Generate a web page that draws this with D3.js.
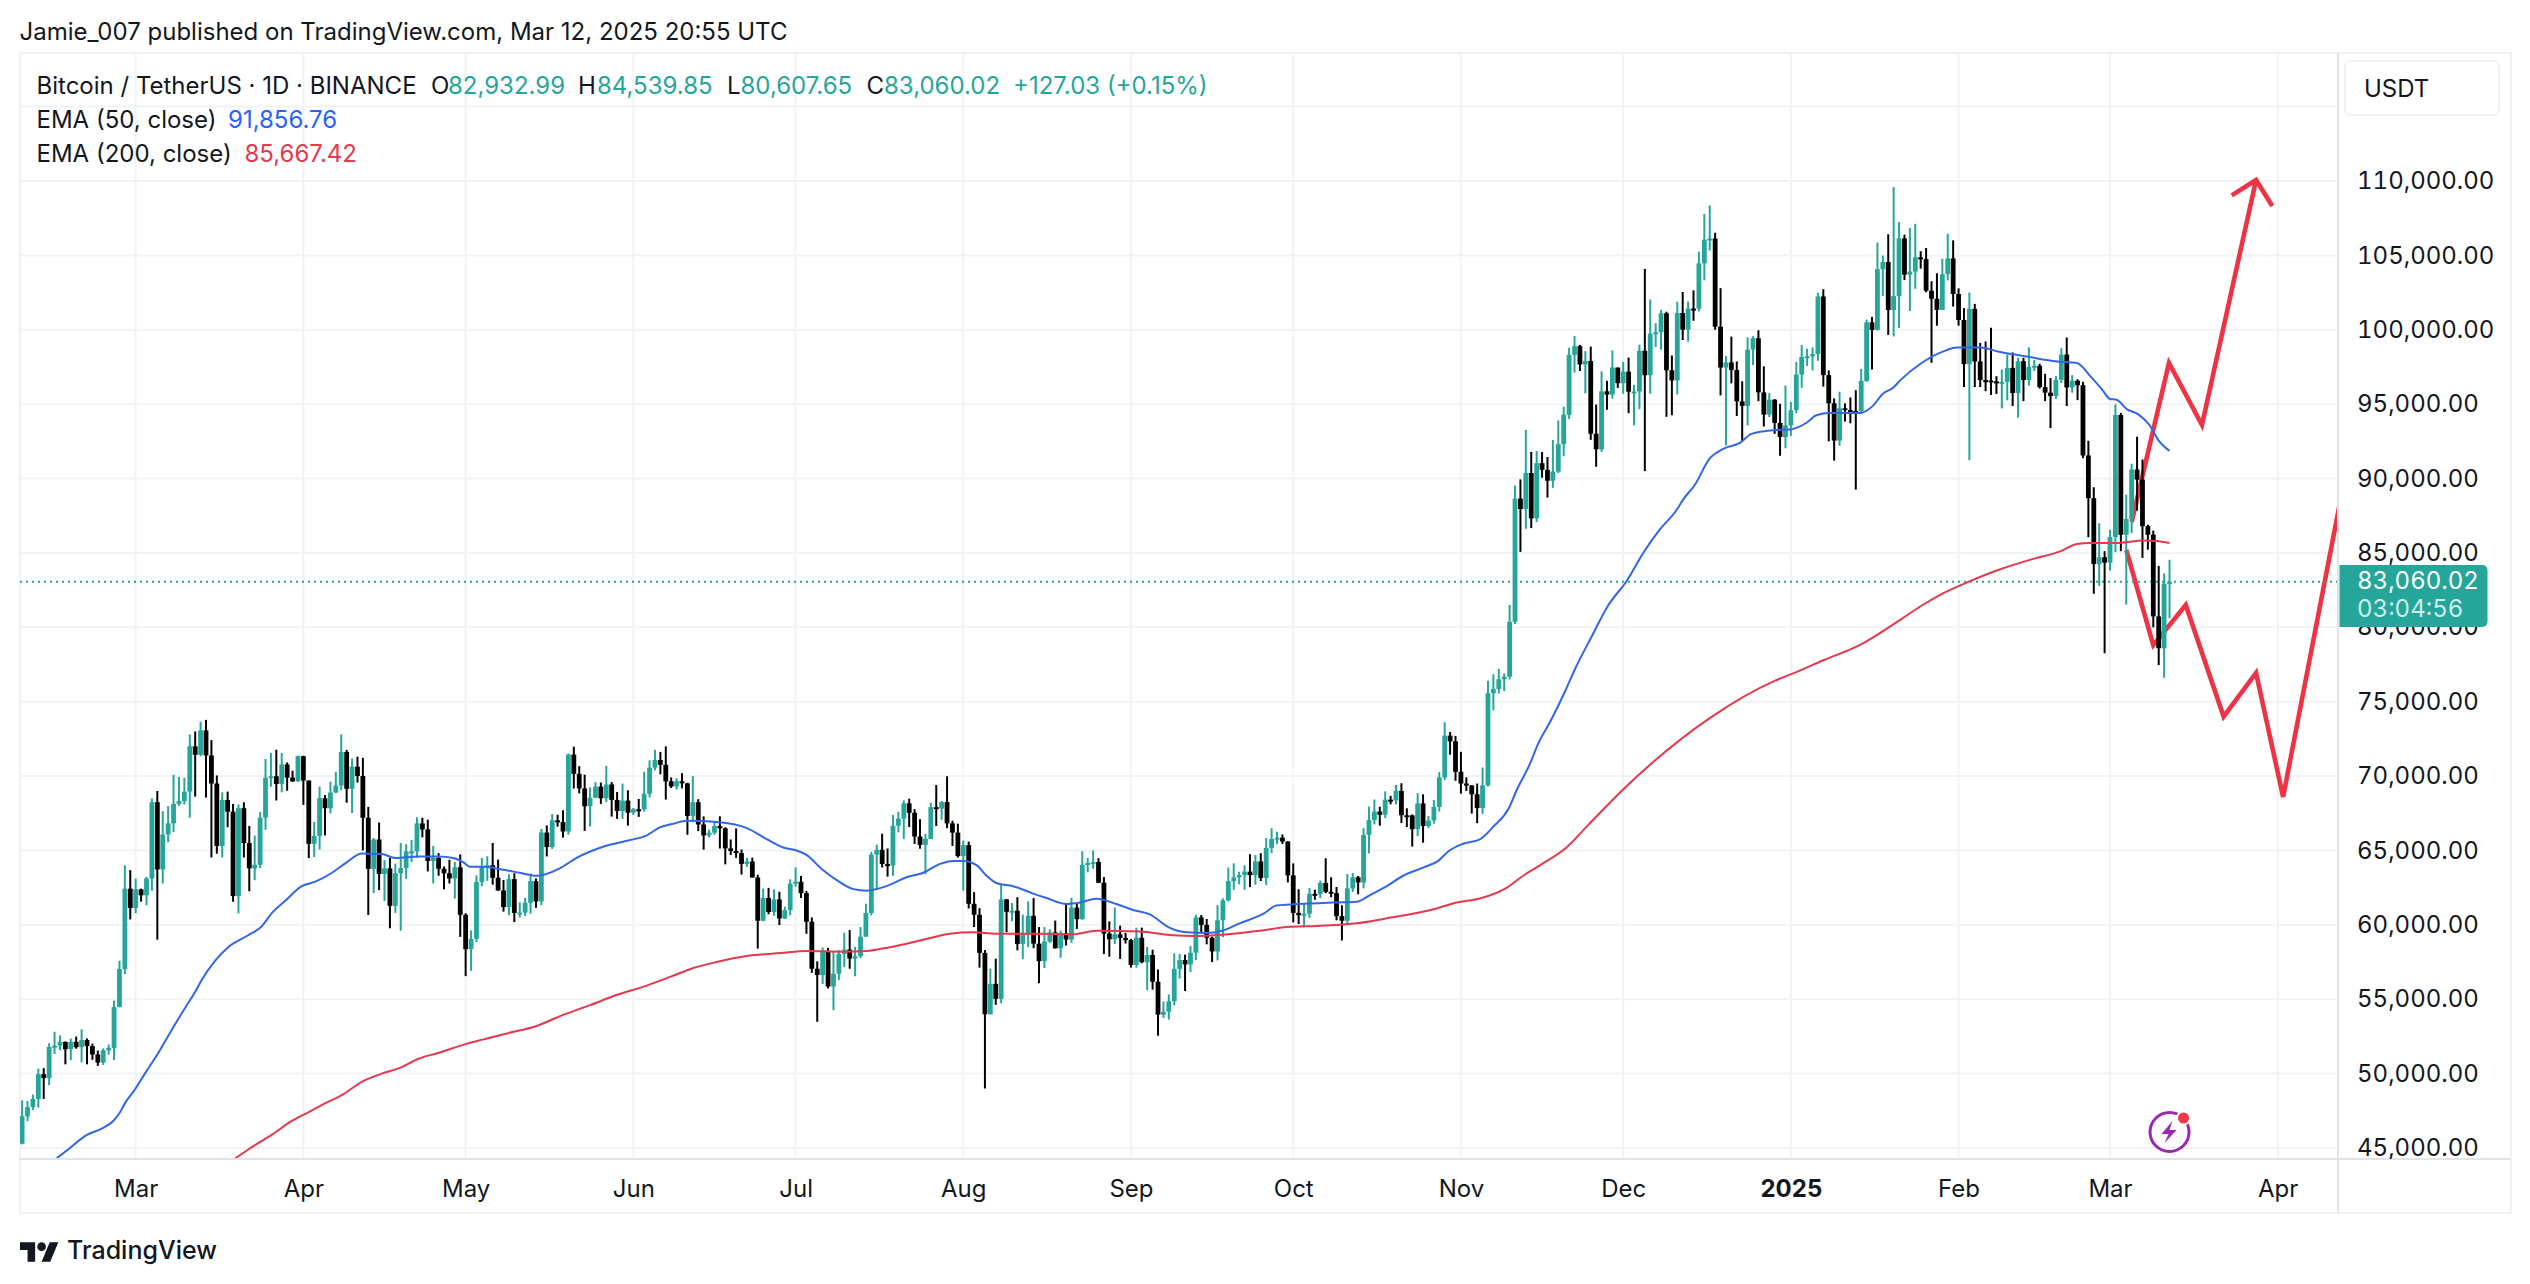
<!DOCTYPE html>
<html>
<head>
<meta charset="utf-8">
<title>BTCUSDT 1D</title>
<script src="https://cdn.jsdelivr.net/npm/d3@7"></script>
<style>
  html, body { margin: 0; background: #fff; }
  text { font-family: Inter, "Noto Sans", sans-serif; fill: #131722; }
</style>
</head>
<body>
<svg id="chart" width="2530" height="1284"></svg>
<script>
// Daily candles, one value per day starting at firstDay.
const firstDay = new Date(Date.UTC(2024, 1, 9));

const opens = [
  45288,47132,47751,48293,49958,49699,51795,51880,52124,51642,52137,51774,52258,51849,51288,50744,51568,51728,54476,57037,62432, // Feb
  61130,62387,61987,63113,68245,63724,66074,66823,68124,68313,68955,72000,71430,73072,71388,69499,65300,68393,67609,61937,67840,65501,63796,64038,67211,69880,69988,69469,70780,69897,69645, // Mar
  71333,69702,65446,65980,68508,67837,68896,69360,71620,69146,70631,70006,67195,63765,65738,63419,63793,61277,63470,63818,64940,64941,66819,66414,64289,64498,63770,63461,63118,63866, // Apr
  60672,58364,59060,62882,63892,64012,63165,62312,61193,63074,60799,60825,61483,62940,61577,66206,65235,67024,66915,66274,71446,70148,69166,67969,68549,69291,68507,69436,68398,67652,68352, // May
  67540,67766,67765,68809,70567,71082,70757,69648,69308,69649,69508,67321,68243,66747,66010,66191,66639,66490,65140,64960,64828,64096,64252,63180,60277,61806,60864,61707,60427,60986, // Jun
  62772,62899,62135,60208,57050,56628,58230,55857,56714,58050,58340,57735,57889,59204,60797,64724,65043,64087,63987,66660,67139,68165,67532,65936,65372,65777,67912,67813,68255,66819,66201, // Jul
  64619,65357,61415,60680,58116,53991,56034,55027,61710,60880,60945,58719,59354,60609,58737,57560,58874,59491,58427,59438,59013,61156,60381,64037,64157,64220,62834,59415,59034,59359,59123, // Aug
  58973,57301,59132,57487,57970,56180,53962,54160,54869,57042,57635,57338,58127,60498,59993,59132,58213,60309,61649,62940,63192,63348,63578,63339,64262,63152,65173,65769,65858,65602, // Sep
  63327,60805,60649,60752,62086,62058,62819,62224,62134,60582,60274,62445,63193,62851,66046,67041,67612,67399,68418,68362,69001,67367,67361,66432,68161,66642,67014,67929,69907,72720,72339, // Oct
  70292,69496,69374,68775,67850,69372,75571,75857,76509,76677,80370,88648,87952,90375,87325,91032,90586,89855,90464,92310,94286,98317,98892,97672,97900,93010,91965,95863,95643,97460, // Nov
  96407,97185,95840,95849,98587,96945,99740,99831,101109,97276,96593,101125,100004,101424,101420,104463,106058,106133,100204,97461,97805,97291,95186,94881,98663,99429,95792,94299,95300,93738,92792, // Dec
  93576,94591,96984,98174,98220,98364,102235,96954,95060,92552,94726,94599,94545,94536,96560,100497,99987,104077,104556,101331,102260,106143,103706,103910,104870,104746,102620,102082,101335,103734,104796, // Jan
  102405,100655,97688,101406,97871,96615,96593,96529,96482,96500,97437,95748,97885,96623,97508,97580,96146,95773,95539,96635,98333,96125,96577,96273,91552,88680,84250,84708, // Feb
  84349,86064,94270,86220,87281,90606,89931,86801,86222,80734,78595,82932 // Mar
];
const highs = [
  48200,48170,48592,50334,50368,52043,52816,52572,52163,52357,52488,52985,52366,52017,51548,51698,51958,54910,57588,64000,63676,
  63114,62433,63231,68499,69000,67641,67980,70083,69936,69887,72800,73000,73650,73777,72419,70043,68904,68956,68124,68100,68240,66649,65999,67587,71150,71561,71769,71552,70916,70355,71377,
  71366,69708,66914,69291,68725,69629,70284,72797,71758,71172,71305,71227,67931,65840,66878,64365,64499,64117,65500,65419,65695,67233,67199,67075,65297,64820,63923,64370,64228,64734,
  60780,59625,63320,64494,64610,65500,64390,63018,63404,63469,61515,61818,63450,63118,66444,66683,67451,67400,67700,71515,71979,70666,70096,69250,69591,69562,70687,69591,68935,69500,69044,
  67857,68460,70288,71063,71758,71625,71997,69909,69850,70195,69550,69999,68449,67294,66400,66983,67298,66556,65738,66480,65066,64500,64520,63369,62435,62487,62389,62225,61224,63058,
  63861,63288,62285,60498,57546,58475,58449,58236,58296,59470,59650,58526,59850,61420,64900,65388,66128,65133,67386,67598,68366,68479,67779,67102,66112,68200,69399,68318,69987,66998,66800,
  65659,65596,62198,61117,58305,57058,57726,62745,61745,61470,61855,60680,61572,61800,59849,59847,59700,60284,59617,61400,61820,61400,64955,64494,65000,64481,63212,60234,61166,59944,59462,
  59054,59809,59815,58511,58327,57000,54850,55318,58088,58044,58000,58588,60670,60660,60395,59210,61320,61786,63850,64133,63572,64000,64745,64688,64817,65839,66498,66260,66076,65618,
  64130,62392,61469,62484,62370,62975,64478,63200,62543,61321,63417,63480,63285,66500,67950,68424,67939,68969,68668,69400,69519,67836,67426,68850,68771,67317,68388,70270,73620,72961,72700,
  71632,69914,69391,69500,70577,76400,76849,77199,76900,81500,89530,89940,93265,91790,91850,91779,91449,92594,93905,94831,98786,99588,98984,98564,98871,94973,97208,96564,98619,97463,
  97836,98130,96307,99000,104088,102039,100439,101350,101215,98270,101888,102540,101895,102650,105250,107780,108353,106524,102800,98233,99540,97870,96539,99487,99569,99963,97544,95733,95340,95024,96250,
  95151,97839,98976,98734,98813,102480,102724,97268,95382,95836,95050,95450,95940,97371,100681,100866,105865,104988,106422,109588,107240,106394,106850,107120,105286,105500,103260,103800,104782,106457,106012,
  102783,101456,102500,101740,99120,99211,100137,96880,97323,98345,98478,98119,98112,98826,97970,97715,97037,96753,96889,98766,99475,96950,96671,96503,92540,89414,87000,85120,
  86558,95000,94416,88911,91000,92810,91283,86897,86500,84123,83617,84539
];
const lows = [
  45242,46800,47557,47710,48300,49225,51315,51566,50625,50900,51677,50760,50625,50926,50521,50585,51280,50901,54450,56691,60364,
  60777,61561,61320,62300,59005,62779,65551,66230,68000,68094,67194,68620,71332,68555,64533,64780,64533,66566,61555,60775,64529,62260,63000,63812,66385,69280,68359,68903,69009,69601,69624,
  68062,64491,64559,65064,66011,67491,68851,69043,68210,67518,69567,65000,60660,62134,62333,61600,59768,60803,59600,63090,64227,64500,65884,63589,62794,63297,62391,62781,61765,59191,
  56552,56911,58848,62599,62955,62700,62285,60888,60648,60187,60487,60610,60749,61142,61319,64600,65106,66600,65857,66060,69162,68842,66312,66600,68510,68128,68250,67277,67124,67128,66670,
  67386,67257,67612,68568,70383,70119,68420,69200,69100,69180,66051,66902,66304,65056,65870,66060,65130,64066,64691,64500,63379,63900,63178,58402,60239,60712,60606,59985,60383,60632,
  62571,61806,59400,56771,53485,56018,55724,54260,56289,57157,57050,56542,57756,59200,60632,62373,63854,63238,63300,66222,65777,66573,65441,65117,63400,65756,66650,67066,66500,65302,64523,
  62302,61100,59850,57122,49000,53973,54620,54730,59500,60242,58286,57688,58506,58433,56078,57098,58785,58408,57787,58610,58783,59724,60345,63531,63773,62800,58034,57860,58713,57703,58744,
  57127,57120,57415,55606,55643,52550,53741,53629,54591,56386,55550,56815,57632,59457,58691,57500,57610,59174,61555,62350,62725,62357,62538,62700,62947,62670,64819,65422,65432,62856,
  60164,60055,59828,60459,61689,61798,62128,61860,60301,58946,60087,62209,62050,62457,64800,66750,66666,67177,68105,68100,66840,66571,65260,65960,65522,66518,66800,67618,69730,71436,69685,
  68820,69000,67478,66835,67458,69298,74416,75555,75714,76492,80216,85072,86623,86668,87073,90056,88722,89376,90357,91500,94000,97122,97232,95734,92600,90791,91792,94620,95364,96092,
  95693,94395,93578,94660,90500,95700,98844,98657,94150,94256,95658,99311,99205,100609,101237,103322,105321,100000,95587,92232,96398,94202,92520,93569,97632,95199,93500,94135,93009,91530,92033,
  92868,94392,96100,97562,97271,97914,96181,92500,91203,92206,93831,93712,89256,94346,96500,97335,99950,102277,99651,99550,100119,103339,101262,102750,104106,102520,97777,100272,101328,103320,101560,
  100279,96150,91231,96150,96155,95869,95620,95688,94713,95256,94876,94088,95205,96252,97232,96046,95205,93388,95349,96417,94871,95770,95270,91371,86050,82256,82786,78258,
  83824,85050,85117,81529,86334,87836,84667,85218,80000,77459,76606,80607
];
const closes = [
  47132,47751,48293,49958,49699,51795,51880,52124,51642,52137,51774,52258,51849,51288,50744,51568,51728,54476,57037,62432,61130,
  62387,61987,63113,68245,63724,66074,66823,68124,68313,68955,72000,71430,73072,71388,69499,65300,68393,67609,61937,67840,65501,63796,64038,67211,69880,69988,69469,70780,69897,69645,71333,
  69702,65446,65980,68508,67837,68896,69360,71620,69146,70631,70006,67195,63765,65738,63419,63793,61277,63470,63818,64940,64941,66819,66414,64289,64498,63770,63461,63118,63866,60672,
  58364,59060,62882,63892,64012,63165,62312,61193,63074,60799,60825,61483,62940,61577,66206,65235,67024,66915,66274,71446,70148,69166,67969,68549,69291,68507,69436,68398,67652,68352,67540,
  67766,67765,68809,70567,71082,70757,69648,69308,69649,69508,67321,68243,66747,66010,66191,66639,66490,65140,64960,64828,64096,64252,63180,60277,61806,60864,61707,60427,60986,62772,
  62899,62135,60208,57050,56628,58230,55857,56714,58050,58340,57735,57889,59204,60797,64724,65043,64087,63987,66660,67139,68165,67532,65936,65372,65777,67912,67813,68255,66819,66201,64619,
  65357,61415,60680,58116,53991,56034,55027,61710,60880,60945,58719,59354,60609,58737,57560,58874,59491,58427,59438,59013,61156,60381,64037,64157,64220,62834,59415,59034,59359,59123,58973,
  57301,59132,57487,57970,56180,53962,54160,54869,57042,57635,57338,58127,60498,59993,59132,58213,60309,61649,62940,63192,63348,63578,63339,64262,63152,65173,65769,65858,65602,63327,
  60805,60649,60752,62086,62058,62819,62224,62134,60582,60274,62445,63193,62851,66046,67041,67612,67399,68418,68362,69001,67367,67361,66432,68161,66642,67014,67929,69907,72720,72339,70292,
  69496,69374,68775,67850,69372,75571,75857,76509,76677,80370,88648,87952,90375,87325,91032,90586,89855,90464,92310,94286,98317,98892,97672,97900,93010,91965,95863,95643,97460,96407,
  97185,95840,95849,98587,96945,99740,99831,101109,97276,96593,101125,100004,101424,101420,104463,106058,106133,100204,97461,97805,97291,95186,94881,98663,99429,95792,94299,95300,93738,92792,93576,
  94591,96984,98174,98220,98364,102235,96954,95060,92552,94726,94599,94545,94536,96560,100497,99987,104077,104556,101331,102260,106143,103706,103910,104870,104746,102620,102082,101335,103734,104796,102405,
  100655,97688,101406,97871,96615,96593,96529,96482,96500,97437,95748,97885,96623,97508,97580,96146,95773,95539,96635,98333,96125,96577,96273,91552,88680,84250,84708,84349,
  86064,94270,86220,87281,90606,89931,86801,86222,80734,78595,82932,83060
];

// EMA readings: candle index (fractional) and price in thousands.
const ema50Idx = [6,8.5,11.9,14.7,16.8,18.1,19,20.8,22.7,25.2,27.6,30.1,32,33.2,35.7,38.1,41.8,44.3,46.2,48.6,51.7,54.2,57.3,60,62.8,66.5,69,73.3,77,79.7,81.6,82.8,85.3,89,92,95.1,99.4,102.5,107.4,112.4,115.4,117.9,120.4,122.9,129,134,137,140.7,143.2,145,148,150.6,153.7,156.1,159.8,163.5,166.6,169.7,172.1,174,176.5,178.3,180.2,183.2,186.9,189.4,193.1,195.6,198.6,202.3,205.4,208.5,211.9,215.3,219,221.8,225.1,229.5,231.9,234.4,238.1,242.4,246.7,249.2,252.3,255.3,259,261.8,263.7,266.4,269.5,272,274.8,276.3,278.8,280.3,282.5,285.2,287.1,290.2,293.1,296.8,299.7,302.6,305.9,307.1,309.2,312,314.5,317.6,319.7,323.7,326.8,329.9,331.7,334.2,339.7,342.2,344,345.9,347.2,350.9,355.2,357.7,362,365.7,370.6,376.2,379.9,382.3,384.5,386,387.2,389.1,391.3,393.4,394.9,397];
const ema50Val = [44.2,44.9,45.87,46.3,46.8,47.4,48,48.9,50,51.4,52.9,54.4,55.5,56.3,57.6,58.5,59.3,59.9,60.8,61.6,62.6,62.9,63.5,64.2,64.8,64.76,64.5,64.6,64.6,64.5,64.2,63.9,63.9,63.7,63.5,63.3,63.8,64.5,65.25,65.7,66,66.55,66.8,67,66.9,66.5,65.9,65.2,65,64.7,63.7,63,62.4,62.3,62.6,63.2,63.5,64.1,64.3,64.3,64,63.3,62.8,62.6,62.1,61.8,61.4,61.5,61.75,61.4,61,60.7,59.85,59.5,59.45,59.6,60.1,60.75,61.3,61.37,61.43,61.5,61.55,62,62.6,63.3,63.85,64.3,64.95,65.45,65.75,66.6,67.8,69.05,70.85,72.2,73.65,75.65,77.2,79.4,81.4,83.2,85,86.5,87.9,88.6,89.55,91.35,92,92.4,93,93.25,93.3,93.75,94.25,94.4,94.4,94.9,95.7,96.1,96.6,97.7,98.55,98.8,98.8,98.5,98.2,97.87,97.76,96.9,96,95.35,95.3,94.67,94.3,93.55,92.6,91.86];

const ema200Idx = [39,41.8,46.2,49.8,52.9,56,59.1,62.8,66.5,69.6,73.3,77,82.1,85.3,89.6,95.1,100,105,110,114.9,119.8,124.1,128.4,134,140.2,145,151.8,156.1,160.4,166.6,171.5,175.8,180.2,188.2,194.3,198.6,206.6,212.8,216.5,222,228.8,233.8,239.3,246.7,251.7,261.5,265.2,269.5,274.5,277.5,280.6,285.5,289.5,295.7,312,324,327.4,333.1,339.7,347.2,350.9,355.2,360.1,365.7,371.8,376.8,379.9,382.3,387.2,392.2,394.6,397];
const ema200Val = [44.2,44.9,45.9,46.8,47.4,48,48.55,49.45,50,50.35,51,51.4,52,52.3,52.7,53.2,53.95,54.6,55.3,55.85,56.5,57.1,57.5,57.9,58.1,58.25,58.2,58.24,58.5,59,59.4,59.5,59.4,59.4,59.36,59.6,59.55,59.3,59.25,59.34,59.6,59.85,59.93,60.1,60.4,61.1,61.5,61.77,62.5,63.3,64,65.2,66.7,69,73.9,76.4,76.9,77.8,78.8,80.5,81.4,82.3,83.1,83.9,84.6,85.1,85.6,85.66,85.66,85.84,85.8,85.67];

// Hand drawn projections on the chart: candle index and price in thousands.
const upLegIdx = [390,396.9,403,413];
const upLegVal = [87.08,97.77,93.6,110.07];
const upHeadIdx = [408.5,413,416];
const upHeadVal = [109.03,110.07,108.32];
const downLegIdx = [389,394,400,407,413,418,429];
const downLegVal = [85.2,78.8,81.5,74,76.93,68.6,89.3];

const monthTicks = [[2024,2],[2024,3],[2024,4],[2024,5],[2024,6],[2024,7],[2024,8],[2024,9],[2024,10],[2024,11],[2025,0],[2025,1],[2025,2],[2025,3]];
const monthLabels = ['Mar','Apr','May','Jun','Jul','Aug','Sep','Oct','Nov','Dec','2025','Feb','Mar','Apr'];
const priceTicks = [45000,50000,55000,60000,65000,70000,75000,80000,85000,90000,95000,100000,105000,110000];
const gridPrices = [...priceTicks, 115000];
const lastPrice = 83060.02;

const UP = '#26a69a';
const DOWN = '#000000';
const GRID = '#f2f3f6';
const BORDER = '#e0e3eb';
const BLUE = '#3366e6';
const RED = '#e5394d';

const pane = { left: 20, right: 2338, top: 53, bottom: 1159, outerRight: 2511, outerBottom: 1213 };

const dayAt = (i) => new Date(+firstDay + i * 864e5);

const x = d3.scaleUtc()
  .domain([firstDay, new Date(Date.UTC(2025, 3, 1))])
  .range([22.1, 2277.7]);
const y = d3.scaleLinear().domain([45000, 110000]).range([1148, 181]);

const svg = d3.select('#chart');

const defs = svg.append('defs');
defs.append('clipPath').attr('id', 'pane-clip').append('rect')
  .attr('x', pane.left).attr('y', pane.top)
  .attr('width', pane.right - pane.left).attr('height', pane.bottom - pane.top);
defs.append('clipPath').attr('id', 'scale-clip').append('rect')
  .attr('x', pane.right).attr('y', pane.top)
  .attr('width', pane.outerRight - pane.right).attr('height', pane.bottom - pane.top);

// Frame
svg.append('rect')
  .attr('x', pane.left).attr('y', pane.top)
  .attr('width', pane.outerRight - pane.left).attr('height', pane.outerBottom - pane.top)
  .attr('fill', 'none').attr('stroke', '#f0f1f4').attr('stroke-width', 2);

// Explicit layers keep z-order stable: the hand drawing sits under the candles.
const gridLayer = svg.append('g').attr('clip-path', 'url(#pane-clip)');
const drawLayer = svg.append('g').attr('clip-path', 'url(#pane-clip)');
const lastLayer = svg.append('g').attr('clip-path', 'url(#pane-clip)');
const candleLayer = svg.append('g').attr('clip-path', 'url(#pane-clip)');
const emaLayer = svg.append('g').attr('clip-path', 'url(#pane-clip)');

const monthDates = monthTicks.map(([yr, mo]) => new Date(Date.UTC(yr, mo, 1)));

gridLayer.selectAll('line.h').data(gridPrices).join('line')
  .attr('class', 'h')
  .attr('x1', pane.left).attr('x2', pane.right)
  .attr('y1', (d) => y(d)).attr('y2', (d) => y(d))
  .attr('stroke', GRID).attr('stroke-width', 2);

gridLayer.selectAll('line.v').data(monthDates).join('line')
  .attr('class', 'v')
  .attr('x1', (d) => x(d)).attr('x2', (d) => x(d))
  .attr('y1', pane.top).attr('y2', pane.bottom)
  .attr('stroke', GRID).attr('stroke-width', 2);

// Projection arrows
const drawnLine = (idx, val) => d3.line()(idx.map((i, k) => [x(dayAt(i)), y(val[k] * 1000)]));
[[upLegIdx, upLegVal], [upHeadIdx, upHeadVal], [downLegIdx, downLegVal]].forEach(([idx, val]) => {
  drawLayer.append('path')
    .attr('d', drawnLine(idx, val))
    .attr('fill', 'none')
    .attr('stroke', '#ee3344')
    .attr('stroke-width', 4.6)
    .attr('stroke-linejoin', 'miter')
    .attr('stroke-linecap', 'butt');
});

// Last price line
lastLayer.append('line')
  .attr('x1', pane.left).attr('x2', pane.right)
  .attr('y1', y(lastPrice)).attr('y2', y(lastPrice))
  .attr('stroke', UP).attr('stroke-width', 2).attr('stroke-dasharray', '2 4');

// Candles
const candles = closes.map((c, i) => ({ date: dayAt(i), o: opens[i], h: highs[i], l: lows[i], c }));
const candleColor = (d) => (d.c >= d.o ? UP : DOWN);

candleLayer.selectAll('line').data(candles).join('line')
  .attr('x1', (d) => x(d.date)).attr('x2', (d) => x(d.date))
  .attr('y1', (d) => y(d.h)).attr('y2', (d) => y(d.l))
  .attr('stroke', candleColor).attr('stroke-width', 2);

candleLayer.selectAll('rect').data(candles).join('rect')
  .attr('x', (d) => x(d.date) - 2.4)
  .attr('width', 4.8)
  .attr('y', (d) => y(Math.max(d.o, d.c)))
  .attr('height', (d) => Math.max(2, Math.abs(y(d.o) - y(d.c))))
  .attr('fill', candleColor);

// EMA lines
const emaPath = (idx, val, color) => {
  const line = d3.line()
    .x((d) => x(dayAt(d)))
    .y((d, k) => y(val[k] * 1000))
    .curve(d3.curveMonotoneX);
  emaLayer.append('path')
    .attr('d', line(idx))
    .attr('fill', 'none')
    .attr('stroke', color)
    .attr('stroke-width', 2);
};
emaPath(ema50Idx, ema50Val, BLUE);
emaPath(ema200Idx, ema200Val, RED);

// Axis separators
svg.append('line')
  .attr('x1', pane.left).attr('x2', pane.outerRight)
  .attr('y1', pane.bottom).attr('y2', pane.bottom)
  .attr('stroke', BORDER).attr('stroke-width', 2);
svg.append('line')
  .attr('x1', pane.right).attr('x2', pane.right)
  .attr('y1', pane.top).attr('y2', pane.outerBottom)
  .attr('stroke', BORDER).attr('stroke-width', 2);

// Price axis, labels cut off by the time axis like the original scale
const yAxis = svg.append('g')
  .attr('clip-path', 'url(#scale-clip)')
  .append('g')
  .attr('transform', `translate(${pane.right},0)`)
  .call(d3.axisRight(y).tickValues(priceTicks).tickFormat(d3.format(',.2f')).tickSize(0).tickPadding(19));
yAxis.select('.domain').remove();
yAxis.selectAll('text')
  .attr('font-size', 24)
  .style('font-family', 'Inter')
  .style('font-variant-numeric', 'tabular-nums')
  .style('fill', '#131722');

// Time axis
const xAxis = svg.append('g')
  .attr('transform', `translate(0,${pane.bottom})`)
  .call(d3.axisBottom(x).tickValues(monthDates).tickFormat((d, i) => monthLabels[i]).tickSize(0).tickPadding(21));
xAxis.select('.domain').remove();
xAxis.selectAll('text')
  .attr('font-size', 24)
  .style('font-family', 'Inter')
  .style('fill', '#131722')
  .style('font-weight', (d, i) => (monthLabels[i] === '2025' ? 700 : 400));

// Last price tag
const tag = svg.append('g');
tag.append('path')
  .attr('d', 'M2339.5 565H2482.5a5 5 0 0 1 5 5V622a5 5 0 0 1 -5 5H2339.5Z')
  .attr('fill', UP);
tag.append('text').attr('x', 2357).attr('y', 589).attr('font-size', 24)
  .style('font-variant-numeric', 'tabular-nums')
  .style('fill', '#ffffff').text(d3.format(',.2f')(lastPrice));
tag.append('text').attr('x', 2357).attr('y', 617).attr('font-size', 24)
  .style('font-variant-numeric', 'tabular-nums')
  .style('fill', '#cdeee9').text('03:04:56');

// Currency button
svg.append('rect')
  .attr('x', 2345).attr('y', 61).attr('width', 154).attr('height', 54).attr('rx', 5)
  .attr('fill', '#fff').attr('stroke', '#f0f1f4').attr('stroke-width', 2);
svg.append('text').attr('x', 2364).attr('y', 97).attr('font-size', 24).text('USDT');

// Header texts
const tokens = [
  { x: 19.5, y: 40, t: 'Jamie_007 published on TradingView.com, Mar 12, 2025 20:55 UTC' },
  { x: 36.5, y: 94, t: 'Bitcoin / TetherUS · 1D · BINANCE' },
  { x: 431, y: 94, t: 'O' },
  { x: 448, y: 94, t: '82,932.99', c: UP },
  { x: 578, y: 94, t: 'H' },
  { x: 597, y: 94, t: '84,539.85', c: UP },
  { x: 727, y: 94, t: 'L' },
  { x: 740.5, y: 94, t: '80,607.65', c: UP },
  { x: 866.5, y: 94, t: 'C' },
  { x: 884, y: 94, t: '83,060.02', c: UP },
  { x: 1013, y: 94, t: '+127.03 (+0.15%)', c: UP },
  { x: 36.5, y: 128, t: 'EMA (50, close)' },
  { x: 228, y: 128, t: '91,856.76', c: '#2962ff' },
  { x: 36.5, y: 162, t: 'EMA (200, close)' },
  { x: 244.5, y: 162, t: '85,667.42', c: RED }
];
svg.append('g').selectAll('text').data(tokens).join('text')
  .attr('x', (d) => d.x).attr('y', (d) => d.y)
  .attr('font-size', 24)
  .style('fill', (d) => d.c || '#131722')
  .text((d) => d.t);

// TradingView wordmark
const brand = svg.append('g').attr('transform', 'translate(20,1238) scale(1.08)');
brand.append('path').attr('d', 'M14 22H7V11H0V4h14v18zM28 22h-8l7.5-18h8L28 22z').attr('fill', '#131722');
brand.append('circle').attr('cx', 20).attr('cy', 8).attr('r', 4).attr('fill', '#131722');
svg.append('text').attr('x', 67).attr('y', 1259).attr('font-size', 25).style('font-weight', 500).text('TradingView');

// Notification badge
const badge = svg.append('g').attr('transform', `translate(${x(dayAt(397))},1132)`);
badge.append('circle').attr('r', 19.5).attr('fill', 'none').attr('stroke', '#9c27b0').attr('stroke-width', 3);
badge.append('path').attr('d', 'M3 -11L-8 2H-1L-5 11L7 -2H0Z').attr('fill', '#9c27b0');
badge.append('circle').attr('cx', 14).attr('cy', -14).attr('r', 7.5).attr('fill', '#fff');
badge.append('circle').attr('cx', 14).attr('cy', -14).attr('r', 5.5).attr('fill', '#f23645');
</script>
</body>
</html>
